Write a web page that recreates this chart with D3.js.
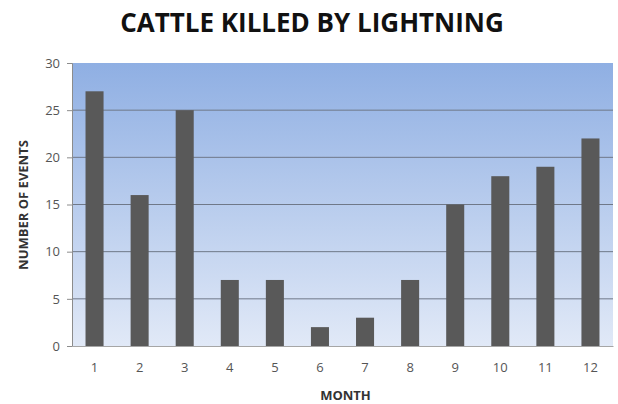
<!DOCTYPE html>
<html>
<head>
<meta charset="utf-8">
<script src="https://cdn.jsdelivr.net/npm/d3@7"></script>
<style>
  body { margin: 0; background: #fff; }
  text { font-family: "Open Sans", sans-serif; }
</style>
</head>
<body>
<div id="chart"></div>
<script>
const months = ["1", "2", "3", "4", "5", "6", "7", "8", "9", "10", "11", "12"];
const events = [27, 16, 25, 7, 7, 2, 3, 7, 15, 18, 19, 22];
const yTicks = [0, 5, 10, 15, 20, 25, 30];

const width = 618;
const height = 404;
const margin = { top: 63, right: 5, bottom: 58, left: 72 };
const innerW = width - margin.left - margin.right;
const innerH = height - margin.top - margin.bottom;

const svg = d3.select("#chart")
  .append("svg")
  .attr("width", width)
  .attr("height", height);

const defs = svg.append("defs");
const grad = defs.append("linearGradient")
  .attr("id", "bg")
  .attr("x1", 0).attr("y1", 0).attr("x2", 0).attr("y2", 1);
grad.append("stop").attr("offset", "0%").attr("stop-color", "#8fafe3");
grad.append("stop").attr("offset", "100%").attr("stop-color", "#e1e9f7");

const chart = svg.append("g")
  .attr("transform", `translate(${margin.left}, ${margin.top})`);

const x = d3.scaleBand()
  .domain(months)
  .range([0, innerW])
  .paddingInner(0.6)
  .paddingOuter(0.3);

const y = d3.scaleLinear()
  .domain([0, 30])
  .range([innerH, 0]);

// plot background
chart.append("rect")
  .attr("width", innerW)
  .attr("height", innerH)
  .attr("fill", "url(#bg)");

// gridlines
chart.append("g")
  .selectAll("line")
  .data(yTicks.filter(d => d > 0 && d < 30))
  .enter()
  .append("line")
  .attr("x1", 0)
  .attr("x2", innerW)
  .attr("y1", d => y(d))
  .attr("y2", d => y(d))
  .attr("stroke", "#6f7888")
  .attr("stroke-width", 1);

// bars
chart.selectAll(".bar")
  .data(events)
  .enter()
  .append("rect")
  .attr("class", "bar")
  .attr("x", (d, i) => x(months[i]))
  .attr("y", d => y(d))
  .attr("width", x.bandwidth())
  .attr("height", d => innerH - y(d))
  .attr("fill", "#595959");

// y axis
const yAxis = chart.append("g")
  .call(d3.axisLeft(y).tickValues(yTicks).tickSize(5).tickPadding(7));
yAxis.select(".domain").attr("stroke", "#8c8c8c");
yAxis.selectAll(".tick line").attr("stroke", "#8c8c8c");
yAxis.selectAll("text")
  .attr("fill", "#555")
  .style("font-size", "13px");

// x axis
const xAxis = chart.append("g")
  .attr("transform", `translate(0, ${innerH})`)
  .call(d3.axisBottom(x).tickSize(0).tickPadding(17));
xAxis.select(".domain").attr("stroke", "#a6a6a6");
xAxis.selectAll("text")
  .attr("fill", "#555")
  .style("font-size", "13px");

// title
svg.append("text")
  .attr("x", 312)
  .attr("y", 32)
  .attr("text-anchor", "middle")
  .style("font-size", "26px")
  .style("font-weight", "bold")
  .attr("fill", "#111")
  .text("CATTLE KILLED BY LIGHTNING");

// axis titles
svg.append("text")
  .attr("x", margin.left + innerW / 2 + 3)
  .attr("y", 400)
  .attr("text-anchor", "middle")
  .style("font-size", "13px")
  .style("font-weight", "bold")
  .attr("fill", "#333")
  .text("MONTH");

svg.append("text")
  .attr("transform", "rotate(-90)")
  .attr("x", -205)
  .attr("y", 28)
  .attr("text-anchor", "middle")
  .style("font-size", "13px")
  .style("font-weight", "bold")
  .attr("fill", "#333")
  .text("NUMBER OF EVENTS");
</script>
</body>
</html>
